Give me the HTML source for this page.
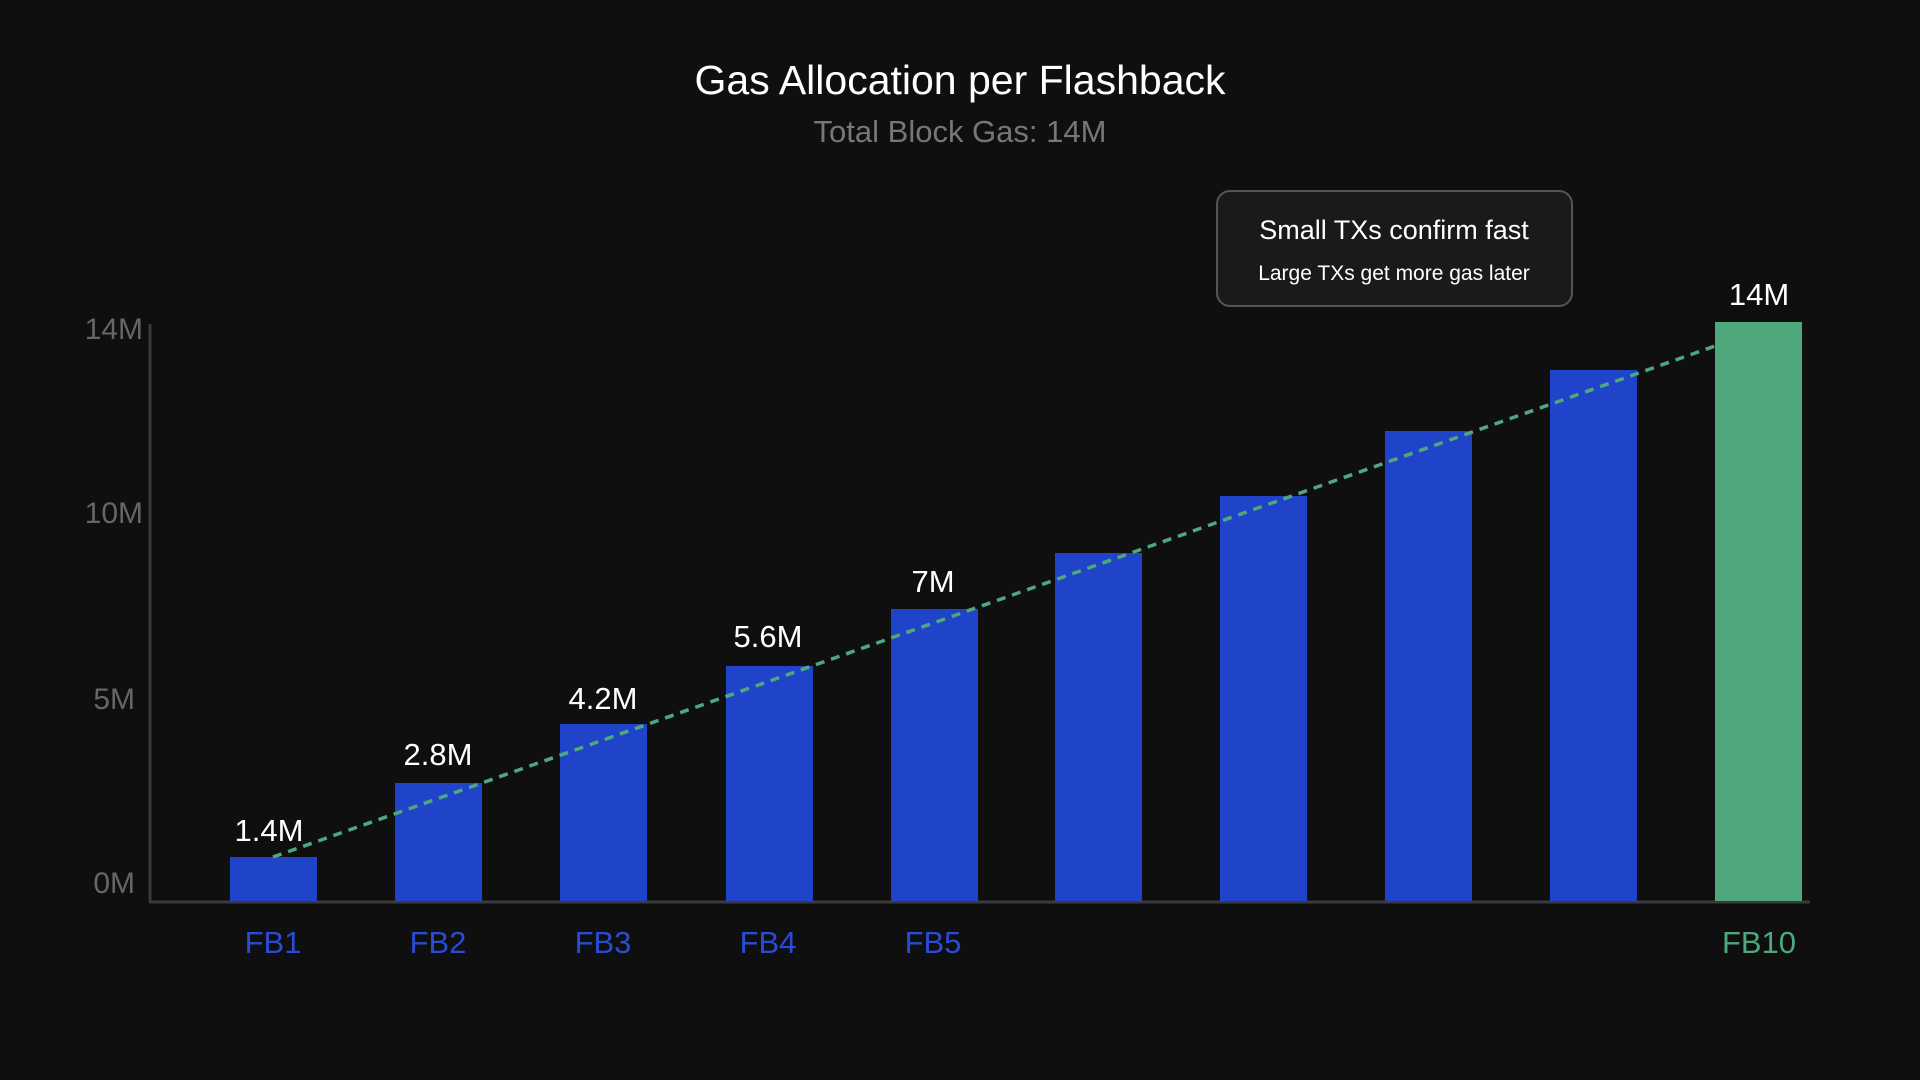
<!DOCTYPE html>
<html><head><meta charset="utf-8"><style>
html,body{margin:0;padding:0;background:#0f0f0f;}
svg{display:block;font-family:"Liberation Sans",Arial,sans-serif;}
</style></head><body>
<svg width="1920" height="1080" viewBox="0 0 1920 1080" xmlns="http://www.w3.org/2000/svg">
<rect width="1920" height="1080" fill="#0f0f0f"/>
<text x="960" y="94" text-anchor="middle" fill="#ffffff" font-size="41">Gas Allocation per Flashback</text>
<text x="960" y="142" text-anchor="middle" fill="#777777" font-size="31">Total Block Gas: 14M</text>
<!-- axes -->
<line x1="150" y1="324" x2="150" y2="902" stroke="#3a3a3a" stroke-width="3"/>
<line x1="149" y1="902" x2="1810" y2="902" stroke="#3a3a3a" stroke-width="3"/>
<g fill="#666666" font-size="30" text-anchor="end">
<text x="143" y="339">14M</text>
<text x="143" y="523">10M</text>
<text x="135" y="709">5M</text>
<text x="135" y="893">0M</text>
</g>
<!-- bars -->
<g fill="#1f44c9">
<rect x="230" y="857" width="87" height="44"/>
<rect x="395" y="783" width="87" height="118"/>
<rect x="560" y="724" width="87" height="177"/>
<rect x="726" y="666" width="87" height="235"/>
<rect x="891" y="609" width="87" height="292"/>
<rect x="1055" y="553" width="87" height="348"/>
<rect x="1220" y="496" width="87" height="405"/>
<rect x="1385" y="431" width="87" height="470"/>
<rect x="1550" y="370" width="87" height="531"/>
</g>
<rect x="1715" y="322" width="87" height="579" fill="#4ea87c"/>
<line x1="273" y1="857" x2="1715" y2="346" stroke="#4ea87c" stroke-width="3.5" stroke-dasharray="9 7"/>
<g fill="#ffffff" font-size="31" text-anchor="middle">
<text x="269" y="841">1.4M</text>
<text x="438" y="765">2.8M</text>
<text x="603" y="709">4.2M</text>
<text x="768" y="647">5.6M</text>
<text x="933" y="592">7M</text>
<text x="1759" y="305">14M</text>
</g>
<g font-size="31" text-anchor="middle" fill="#2a4bd3">
<text x="273" y="953">FB1</text>
<text x="438" y="953">FB2</text>
<text x="603" y="953">FB3</text>
<text x="768" y="953">FB4</text>
<text x="933" y="953">FB5</text>
<text x="1759" y="953" fill="#4ea87c">FB10</text>
</g>
<!-- callout -->
<rect x="1217" y="191" width="355" height="115" rx="13" fill="#1a1a1a" stroke="#555" stroke-width="2"/>
<text x="1394" y="239" text-anchor="middle" fill="#ffffff" font-size="27">Small TXs confirm fast</text>
<text x="1394" y="280" text-anchor="middle" fill="#ffffff" font-size="21">Large TXs get more gas later</text>
</svg>
</body></html>
